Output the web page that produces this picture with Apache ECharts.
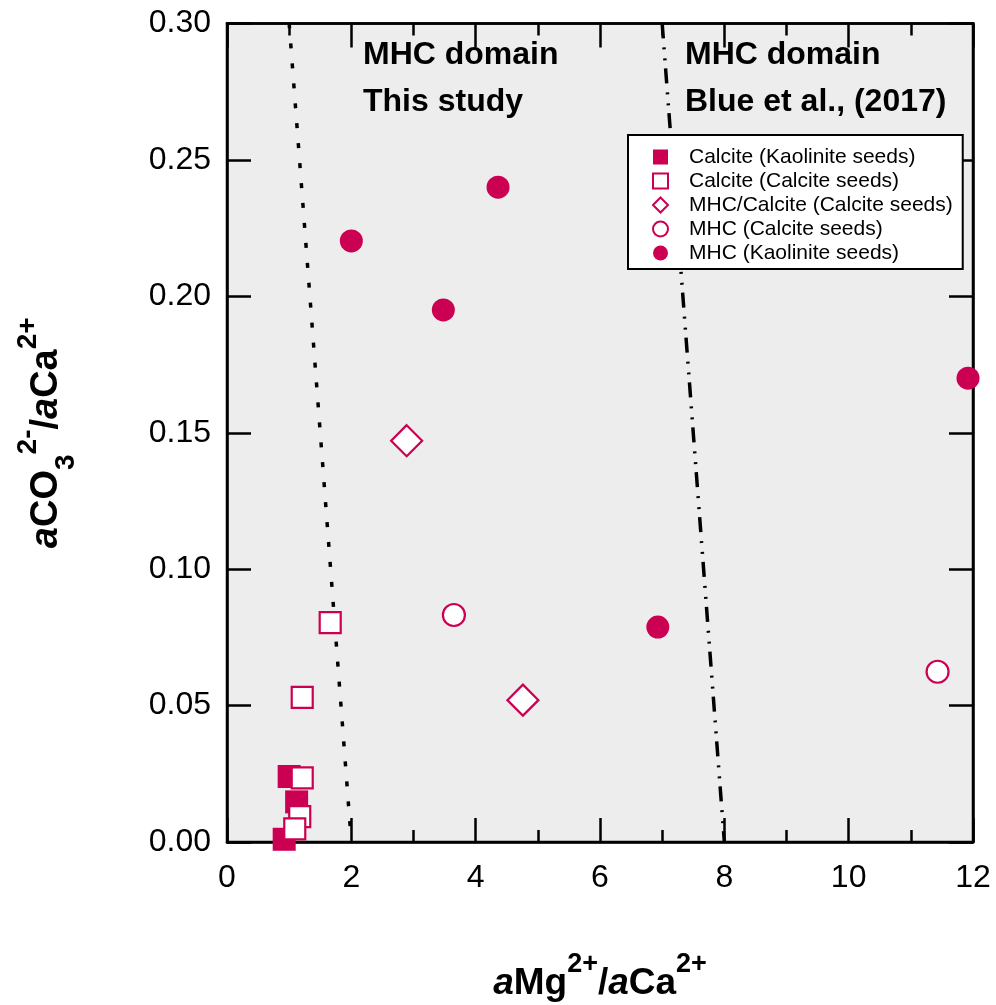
<!DOCTYPE html>
<html>
<head>
<meta charset="utf-8">
<script src="https://cdn.jsdelivr.net/npm/echarts@6/dist/echarts.min.js"></script>
<style>
  html, body { margin: 0; padding: 0; background: #fff; }
  #chart { width: 996px; height: 1005px; }
</style>
</head>
<body>
<div id="chart"></div>
<script>
// values: [aMg/aCa, aCO3/aCa]
const calciteKaolinite = [[1.00, 0.0240], [1.12, 0.0147], [0.92, 0.0010]];
const calciteCalcite = [[1.66, 0.0804], [1.21, 0.0530], [1.21, 0.0235], [1.17, 0.0093], [1.09, 0.0048]];
const mhcCalciteMixed = [[2.89, 0.1471], [4.76, 0.0520]];
const mhcCalcite = [[3.65, 0.0832], [11.43, 0.0624]];
const mhcKaolinite = [[2.00, 0.2203], [4.36, 0.2400], [3.48, 0.1950], [6.93, 0.0788], [11.92, 0.1700]];

// domain boundaries
const boundaryThisStudy = [[1, 0.30], [2, 0.00]];
const boundaryBlue = [[7, 0.30], [8, 0.00]];

const seriesNames = [
  'Calcite (Kaolinite seeds)',
  'Calcite (Calcite seeds)',
  'MHC/Calcite (Calcite seeds)',
  'MHC (Calcite seeds)',
  'MHC (Kaolinite seeds)'
];

const FONT = '"Liberation Sans", Arial, Helvetica, sans-serif';
const RED = '#cc0052';
const BLACK = '#000';

const chart = echarts.init(document.getElementById('chart'), null, { renderer: 'canvas' });

const axisLine = { show: true, onZero: false, lineStyle: { color: BLACK, width: 2.5 } };
const tick = { show: true, inside: true, length: 24, lineStyle: { color: BLACK, width: 2.5 } };

function nameRich(base, small) {
  return {
    b: { fontFamily: FONT, fontSize: base, fontWeight: 'bold', color: BLACK, lineHeight: 66, verticalAlign: 'middle' },
    i: { fontFamily: FONT, fontSize: base, fontWeight: 'bold', fontStyle: 'italic', color: BLACK, lineHeight: 66, verticalAlign: 'middle' },
    sup: { fontFamily: FONT, fontSize: small, fontWeight: 'bold', color: BLACK, lineHeight: 22, verticalAlign: 'top' },
    sub: { fontFamily: FONT, fontSize: small, fontWeight: 'bold', color: BLACK, lineHeight: 22, verticalAlign: 'bottom' }
  };
}

function scatter(name, data, symbol, size, filled) {
  return {
    name,
    type: 'scatter',
    data,
    symbol,
    symbolSize: size,
    clip: false,
    z: 5,
    itemStyle: filled
      ? { color: RED, borderWidth: 0, opacity: 1 }
      : { color: '#fff', borderColor: RED, borderWidth: 2.2, opacity: 1 },
    emphasis: { disabled: true }
  };
}

const option = {
  animation: false,
  backgroundColor: '#fff',
  grid: {
    left: 227, right: 23, top: 23.5, bottom: 163,
    show: true,
    backgroundColor: '#ededed',
    borderColor: BLACK,
    borderWidth: 2.5,
    containLabel: false,
    outerBoundsMode: 'none'
  },
  legend: {
    data: seriesNames,
    orient: 'vertical',
    left: 628,
    top: 135,
    padding: [11, 10, 5, 24],
    itemGap: 2,
    itemWidth: 15,
    itemHeight: 15,
    backgroundColor: '#fff',
    borderColor: BLACK,
    borderWidth: 2,
    borderRadius: 0,
    z: 20,
    selectedMode: false,
    itemStyle: { opacity: 1 },
    textStyle: { fontFamily: FONT, fontSize: 21, color: BLACK, lineHeight: 22, padding: [0, 0, 0, 16] }
  },
  graphic: [
    {
      type: 'text', left: 363, top: 32, z: 10,
      style: { text: 'MHC domain\nThis study', font: 'bold 32px ' + FONT, fill: BLACK, lineHeight: 47 }
    },
    {
      type: 'text', left: 685, top: 32, z: 10,
      style: { text: 'MHC domain\nBlue et al., (2017)', font: 'bold 32px ' + FONT, fill: BLACK, lineHeight: 47 }
    }
  ],
  xAxis: [
    {
      type: 'value', min: 0, max: 12, interval: 2, position: 'bottom',
      axisLine, axisTick: tick,
      minorTick: { show: true, splitNumber: 2, length: 12, lineStyle: { color: BLACK, width: 2.5 } },
      splitLine: { show: false }, minorSplitLine: { show: false },
      axisLabel: { fontFamily: FONT, fontSize: 32, color: BLACK, margin: 20 },
      name: '{i|a}{b|Mg}{sup|2+}{b|/}{i|a}{b|Ca}{sup|2+}',
      nameLocation: 'middle', nameGap: 109,
      nameTextStyle: { rich: nameRich(37, 27) }
    },
    {
      type: 'value', min: 0, max: 12, interval: 2, position: 'top',
      axisLine, axisTick: tick,
      minorTick: { show: true, splitNumber: 2, length: 12, lineStyle: { color: BLACK, width: 2.5 } },
      splitLine: { show: false }, axisLabel: { show: false }
    }
  ],
  yAxis: [
    {
      type: 'value', min: 0, max: 0.3, interval: 0.05, position: 'left',
      axisLine, axisTick: tick,
      splitLine: { show: false },
      axisLabel: { fontFamily: FONT, fontSize: 32, color: BLACK, margin: 16, formatter: v => v.toFixed(2) },
      name: '{i|a}{b|CO}{sub|3}{sup|2-}{b|/}{i|a}{b|Ca}{sup|2+}',
      nameLocation: 'middle', nameGap: 147, nameRotate: 90,
      nameTextStyle: { rich: nameRich(38, 28) }
    },
    {
      type: 'value', min: 0, max: 0.3, interval: 0.05, position: 'right',
      axisLine, axisTick: tick,
      splitLine: { show: false }, axisLabel: { show: false }
    }
  ],
  series: [
    {
      type: 'line', data: boundaryThisStudy, symbol: 'none', z: 3, silent: true,
      lineStyle: { color: BLACK, width: 3.5, type: [5, 15], cap: 'butt' }
    },
    {
      type: 'line', data: boundaryBlue, symbol: 'none', z: 3, silent: true,
      lineStyle: { color: BLACK, width: 3.5, type: [15, 9, 2, 9, 2, 8], cap: 'butt' }
    },
    scatter(seriesNames[0], calciteKaolinite, 'rect', 23, true),
    scatter(seriesNames[1], calciteCalcite, 'rect', 21, false),
    scatter(seriesNames[2], mhcCalciteMixed, 'diamond', 31, false),
    scatter(seriesNames[3], mhcCalcite, 'circle', 22, false),
    scatter(seriesNames[4], mhcKaolinite, 'circle', 23, true)
  ]
};

chart.setOption(option);
</script>
</body>
</html>
